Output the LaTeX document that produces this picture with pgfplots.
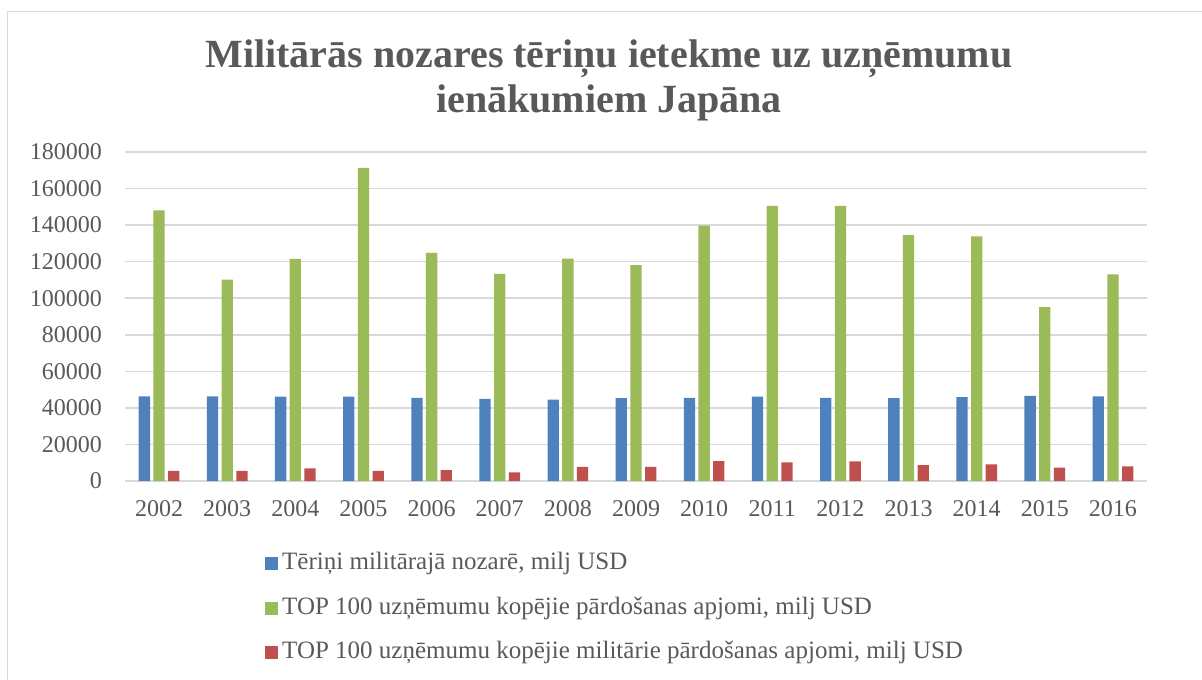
\documentclass[border=0pt]{standalone}
\usepackage{pgfplots}
\pgfplotsset{compat=1.18}
\usepackage{fontspec}
\setmainfont{Liberation Serif}
\definecolor{cblue}{HTML}{4F81BD}
\definecolor{cgreen}{HTML}{9BBB59}
\definecolor{cred}{HTML}{C0504D}
\definecolor{tgrey}{HTML}{595959}
\definecolor{ggrey}{HTML}{D9D9D9}
\begin{document}
\begin{tikzpicture}
\useasboundingbox (0pt,0pt) rectangle (601pt,-339.5pt);
\draw[ggrey, line width=0.75pt] (3.75pt,-345pt) -- (3.75pt,-5.75pt) -- (610pt,-5.75pt);
\node[font=\fontsize{20}{22.5}\selectfont\bfseries, text=tgrey, align=center] at (304.5pt,-40pt)
  {Militārās nozares tēriņu ietekme uz uzņēmumu\\ienākumiem Japāna};
\begin{axis}[
  at={(62.5pt,-240.5pt)}, anchor=south west,
  scale only axis, width=511pt, height=164.5pt,
  ybar=1.7pt, bar width=5.65pt,
  xmin=-0.5, xmax=14.5, ymin=0, ymax=180000,
  xtick=data,
  xticklabels={2002,2003,2004,2005,2006,2007,2008,2009,2010,2011,2012,2013,2014,2015,2016},
  ytick={0,20000,...,180000},
  scaled y ticks=false,
  major tick length=0pt,
  axis line style={draw=none},
  ymajorgrids, grid style={ggrey, line width=0.75pt},
  extra y ticks={0}, extra y tick labels={},
  extra y tick style={grid style={ggrey, line width=1pt}},
  /pgf/number format/.cd, fixed, 1000 sep={}, assume math mode=true, /pgfplots/.cd,
  tick label style={font=\fontsize{12}{14}\selectfont, text=tgrey},
  yticklabel style={anchor=east, xshift=-8pt},
  xticklabel style={yshift=-6pt},
  legend style={at={(0.137,-0.2036)}, anchor=north west, draw=none, fill=none,
    inner sep=0pt, font=\fontsize{12.5}{14}\selectfont, text=tgrey,
    row sep=7pt, cells={anchor=west},
    nodes={text height=8.7pt, text depth=2.6pt, inner sep=2pt, xshift=2.5pt}},
  legend cell align=left,
  legend image code/.code={\fill[#1] (0pt,-3.2pt) rectangle (6.4pt,3.2pt);},
]
\addplot[fill=cblue, draw=none] coordinates {(0,46300) (1,46300) (2,46100) (3,46100) (4,45500) (5,45000) (6,44500) (7,45400) (8,45500) (9,46100) (10,45500) (11,45400) (12,45900) (13,46600) (14,46300)};
\addplot[fill=cgreen, draw=none] coordinates {(0,148100) (1,110200) (2,121500) (3,171300) (4,124800) (5,113300) (6,121700) (7,118100) (8,139700) (9,150500) (10,150500) (11,134500) (12,133900) (13,95100) (14,113000)};
\addplot[fill=cred, draw=none] coordinates {(0,5500) (1,5500) (2,6900) (3,5600) (4,6000) (5,4700) (6,7700) (7,7800) (8,10900) (9,10200) (10,10700) (11,8700) (12,9100) (13,7300) (14,8000)};
\legend{{Tēriņi militārajā nozarē, milj USD},
  {TOP 100 uzņēmumu kopējie pārdošanas apjomi, milj USD},
  {TOP 100 uzņēmumu kopējie militārie pārdošanas apjomi, milj USD}}
\end{axis}
\end{tikzpicture}
\end{document}
